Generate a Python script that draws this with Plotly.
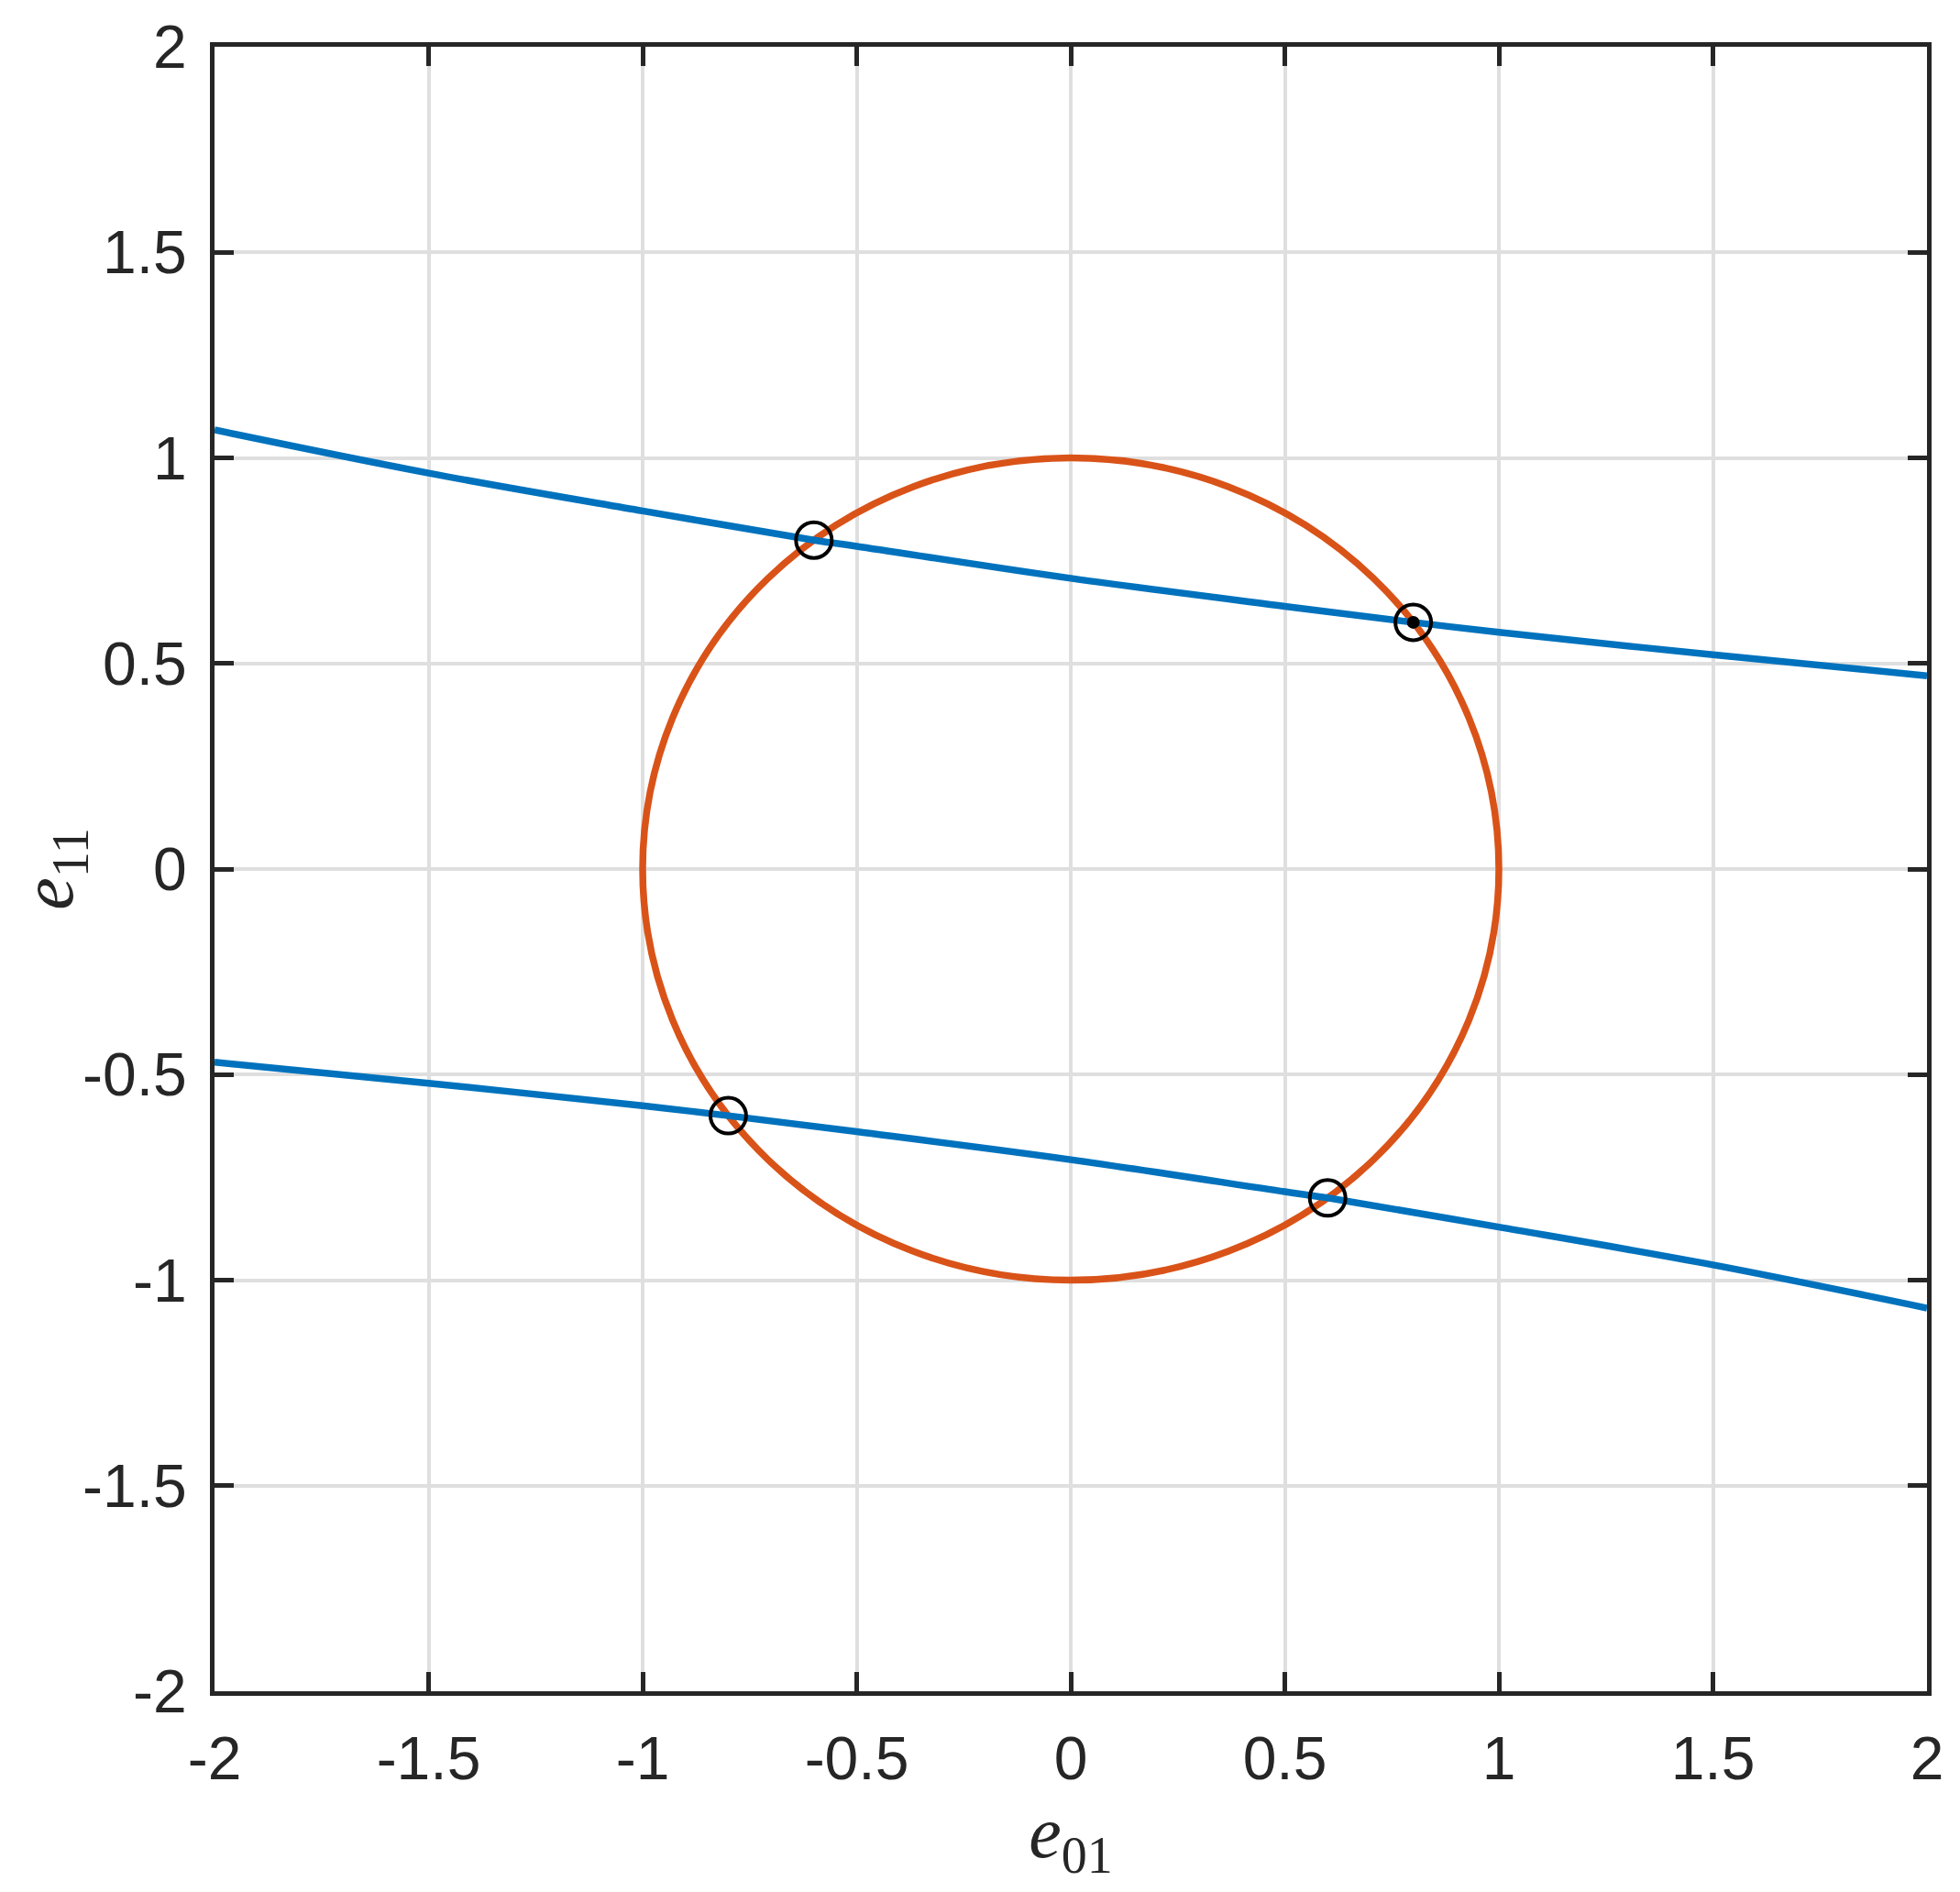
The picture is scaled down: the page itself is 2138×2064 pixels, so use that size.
import plotly.graph_objects as go

# Upper and lower curves
upper_x = [-2.0, -1.5, -1.0, -0.6, -0.5, 0.0, 0.5, 0.8, 1.0, 1.5, 2.0]
upper_y = [1.068, 0.963, 0.871, 0.800, 0.785, 0.707, 0.639, 0.600, 0.576, 0.521, 0.470]
lower_x = [-2.0, -1.5, -1.0, -0.8, -0.5, 0.0, 0.5, 0.6, 1.0, 1.5, 2.0]
lower_y = [-0.470, -0.521, -0.576, -0.600, -0.639, -0.707, -0.785, -0.800, -0.871, -0.963, -1.068]

# Unit circle (center and radius)
circle_cx, circle_cy, circle_r = 0.0, 0.0, 1.0

# Intersection points
pts_x = [-0.6, 0.8, -0.8, 0.6]
pts_y = [0.8, 0.6, -0.6, -0.8]
sel_x = [0.8]
sel_y = [0.6]

ticks = [-2, -1.5, -1, -0.5, 0, 0.5, 1, 1.5, 2]
tick_text = ["-2", "-1.5", "-1", "-0.5", "0", "0.5", "1", "1.5", "2"]

BLUE = "#0072BD"
ORANGE = "#D95319"
AX = "#262626"

fig = go.Figure()
for xs, ys in ((upper_x, upper_y), (lower_x, lower_y)):
    fig.add_trace(go.Scatter(x=xs, y=ys, mode="lines",
                             line=dict(color=BLUE, width=7.5, shape="spline", smoothing=1.0),
                             showlegend=False))
fig.add_shape(type="circle", xref="x", yref="y",
              x0=circle_cx - circle_r, x1=circle_cx + circle_r,
              y0=circle_cy - circle_r, y1=circle_cy + circle_r,
              line=dict(color=ORANGE, width=7.5), layer="between")
fig.add_trace(go.Scatter(x=pts_x, y=pts_y, mode="markers",
                         marker=dict(symbol="circle-open", size=39, color="black",
                                     line=dict(width=4, color="black")),
                         showlegend=False))
fig.add_trace(go.Scatter(x=sel_x, y=sel_y, mode="markers",
                         marker=dict(symbol="circle", size=14, color="black"),
                         showlegend=False))

axis_common = dict(
    range=[-2, 2], tickvals=ticks, ticktext=tick_text,
    showline=True, linecolor=AX, linewidth=5, mirror="ticks",
    ticks="inside", ticklen=21, tickwidth=5, tickcolor=AX,
    showgrid=True, gridcolor="#dfdfdf", gridwidth=4, zeroline=False,
    tickfont=dict(family="Liberation Sans, Arial", size=66, color=AX),
)

fig.update_xaxes(**axis_common, ticklabelstandoff=12,
                 title=dict(text="<i>e</i><sub>01</sub>",
                            font=dict(family="Liberation Serif, Times New Roman", size=80, color=AX),
                            standoff=12))
fig.update_yaxes(**axis_common, ticklabelstandoff=12,
                 title=dict(text="<i>e</i><sub>11</sub>",
                            font=dict(family="Liberation Serif, Times New Roman", size=80, color=AX),
                            standoff=14))

fig.update_layout(
    width=2130, height=2056,
    margin=dict(l=226, r=36, t=43, b=219, autoexpand=False),
    plot_bgcolor="white", paper_bgcolor="white",
    showlegend=False,
)

fig.write_html("out.html")
